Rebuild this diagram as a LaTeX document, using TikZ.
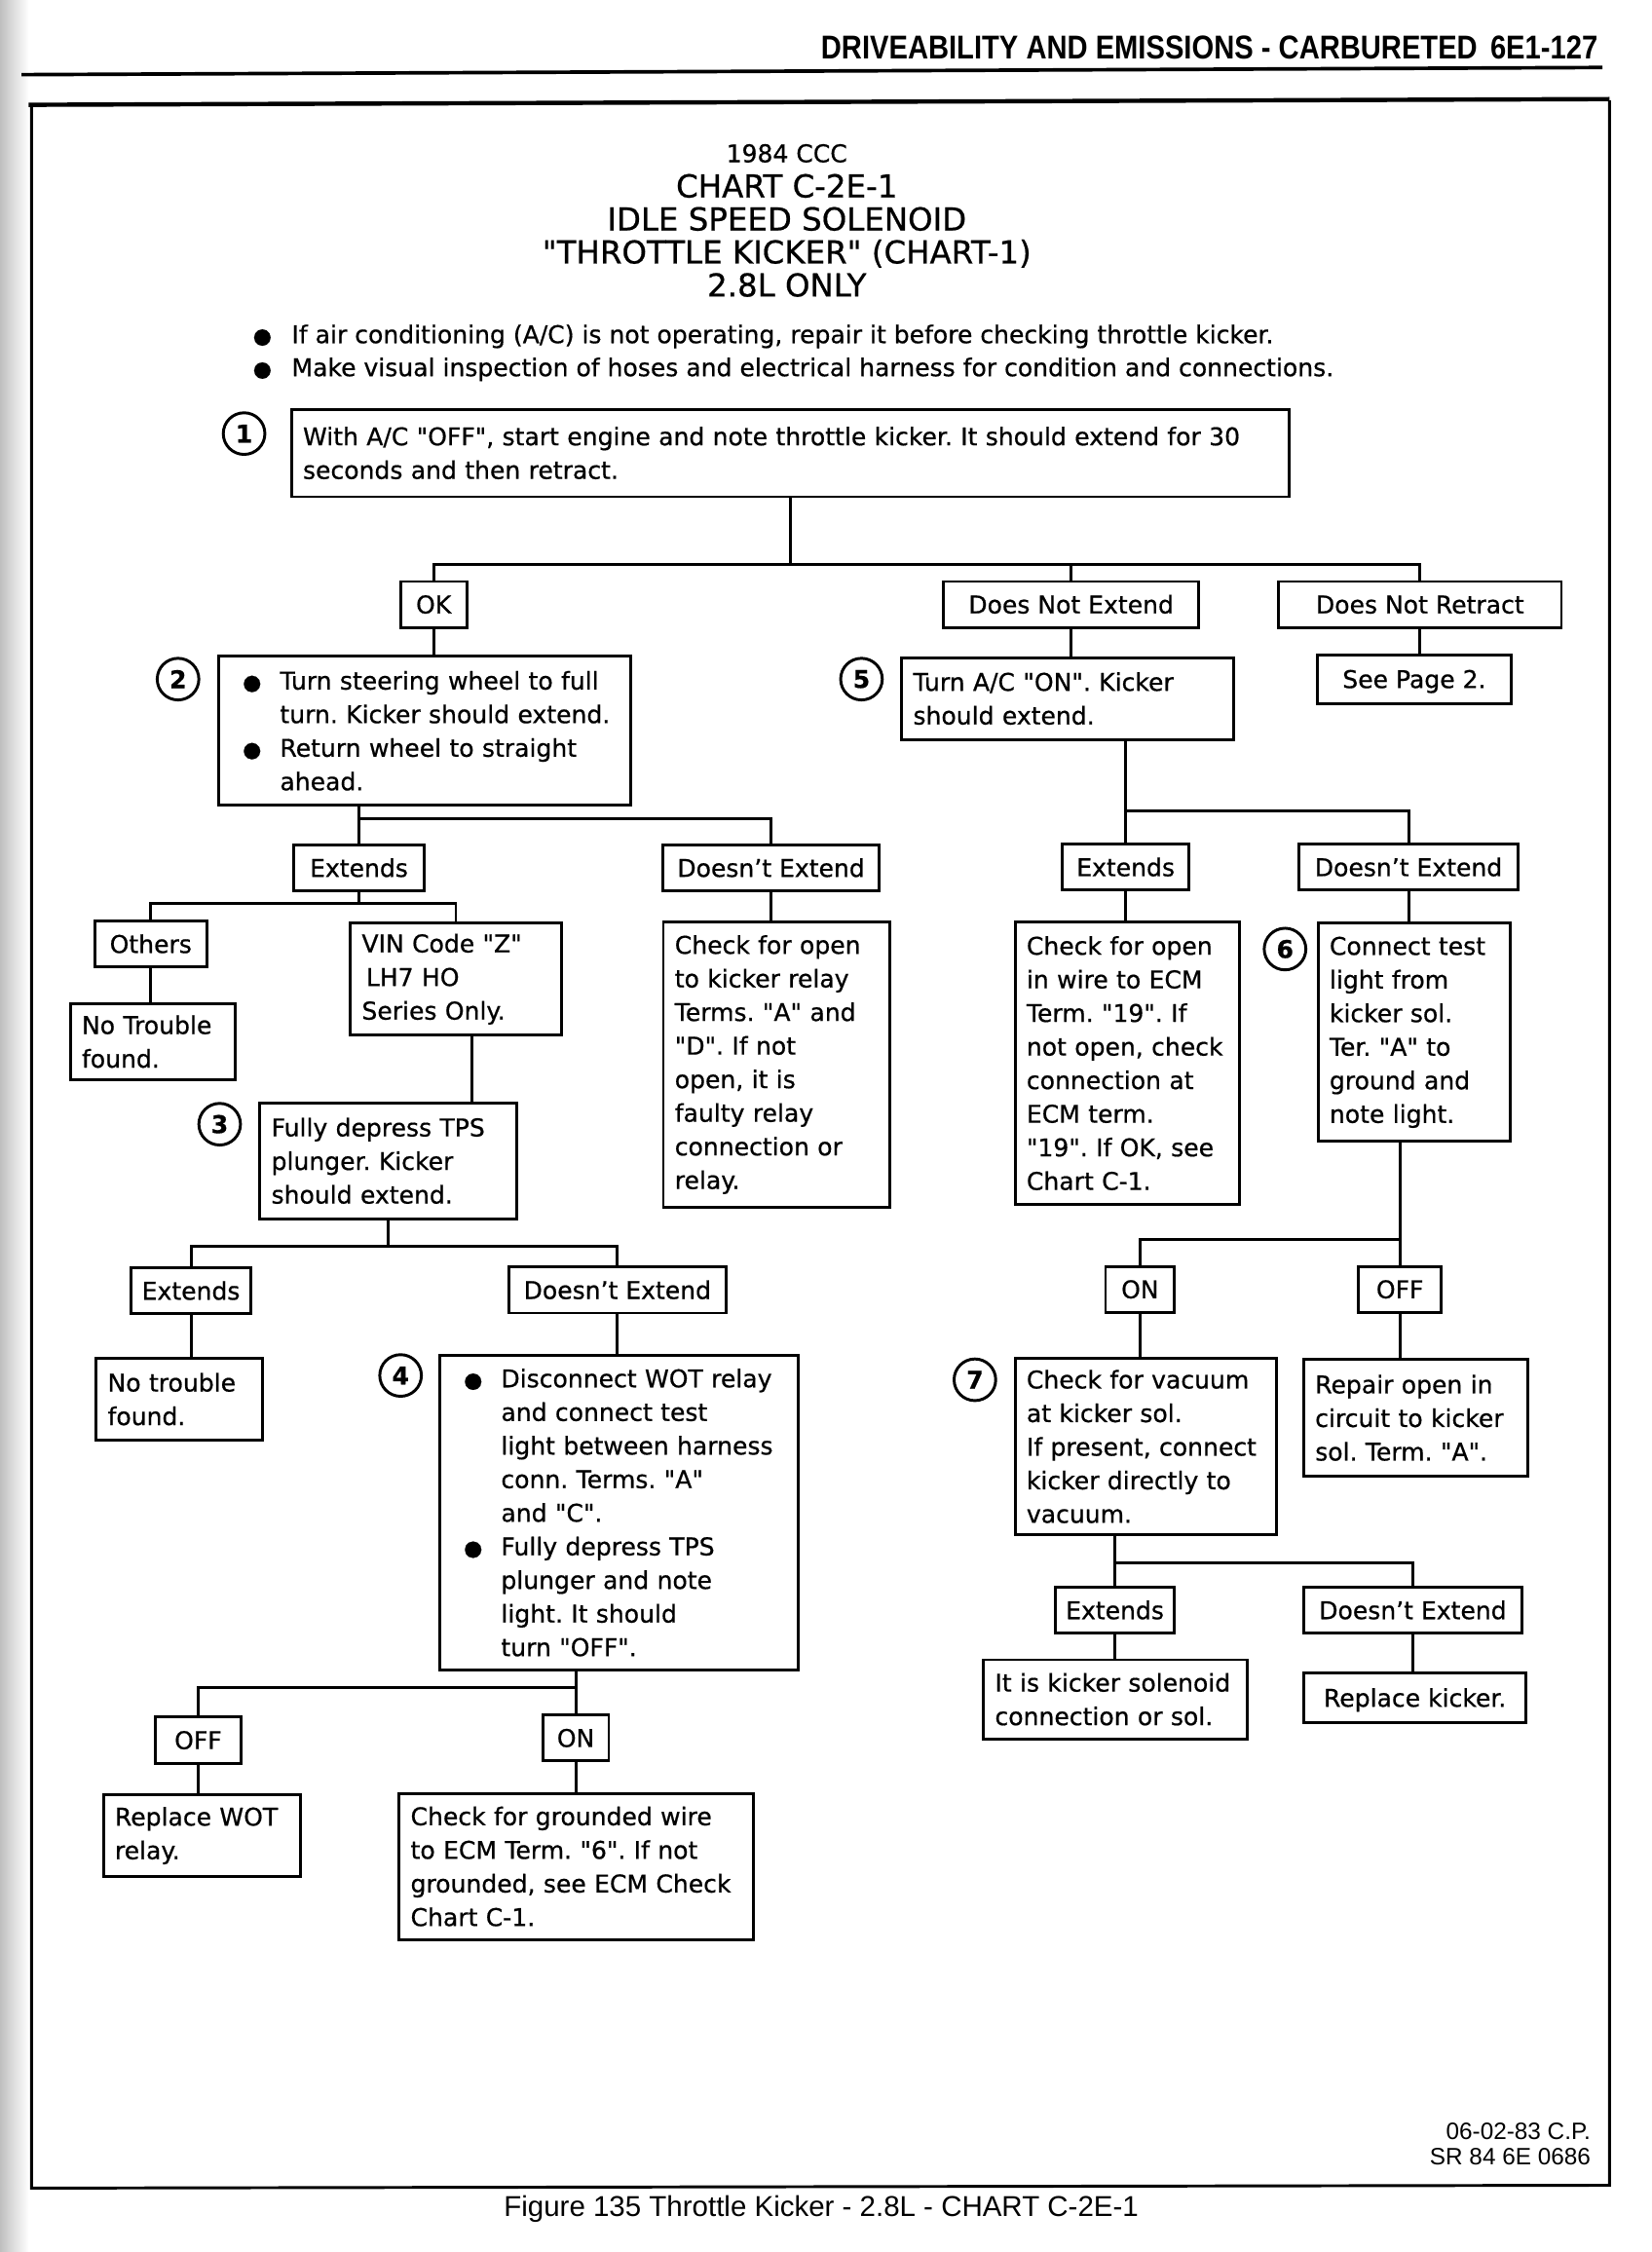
\documentclass[tikz,border=0pt]{standalone}
\usepackage{fontspec}
\setmainfont{DejaVu Sans}[Ligatures=TeXOff, FakeBold=0.6]
\newfontfamily\hdrfont[FakeStretch=0.86]{Liberation Sans}
\newfontfamily\capfont{Liberation Sans}
\usetikzlibrary{positioning,calc}
\frenchspacing
\newcommand\boxfont{\fontsize{17}{23.4}\selectfont}
\newcommand\dotb{{\fontsize{15}{15}\selectfont ●}}
\newcommand\bitem{\makebox[35pt][l]{\hspace{9pt}\dotb}}
\newcommand\bcont{\hspace*{35pt}}

\begin{document}
\begin{tikzpicture}[x=1pt, y=-1pt,
  box/.style={draw, line width=2pt, inner xsep=8pt, inner ysep=4pt, align=left, anchor=north west, font=\boxfont},
  tag/.style={draw, line width=2pt, minimum height=32pt, inner sep=0pt, text height=12.4pt, text depth=0pt, font=\boxfont},
  num/.style={draw, circle, line width=2pt, minimum size=29pt, inner sep=0pt, font=\boxfont\bfseries},
  wire/.style={line width=2pt},
  ttl/.style={anchor=base, inner sep=0pt, font=\fontsize{22}{24}\selectfont}]

\useasboundingbox (0,0) rectangle (1150,1568.5);
\fill[white] (0,0) rectangle (1150,1568.5);
\shade[left color=black!25, right color=white] (0,0) rectangle (20,1568.5);

% page head and frame
\node[anchor=base east, inner sep=0pt, font=\hdrfont\bfseries\fontsize{23}{24}\selectfont] (hdr) at (1113,41) {DRIVEABILITY AND EMISSIONS - CARBURETED\hspace{9pt}6E1-127};
\draw[line width=2.5pt] (15,52) -- (1116,47);
\draw[line width=2pt] (22,73) -- (22,1524) -- (1121,1522) -- (1121,70);
\draw[line width=3pt] (20,73) -- (1121,69);
\node[anchor=base, inner sep=0pt, font=\capfont\fontsize{20}{22}\selectfont] (fig) at (572,1544) {Figure 135 Throttle Kicker - 2.8L - CHART C-2E-1};
\node[anchor=base east, inner sep=0pt, font=\capfont\fontsize{16.5}{18}\selectfont] (date) at (1108,1490) {06-02-83 C.P.};
\node[anchor=base east, inner sep=0pt, font=\capfont\fontsize{16.5}{18}\selectfont] (srno) at (1108,1508) {SR 84 6E 0686};

% title
\node[ttl, font=\fontsize{17}{20}\selectfont] (t0) at (548,113) {1984 CCC};
\node[ttl] (t1) at (548,137.5) {CHART C-2E-1};
\node[ttl] (t2) at (548,160.5) {IDLE SPEED SOLENOID};
\node[ttl] (t3) at (548,183.5) {"THROTTLE KICKER" (CHART-1)};
\node[ttl] (t4) at (548,206.5) {2.8L ONLY};
\node[anchor=base west, inner sep=0pt, font=\fontsize{17}{23}\selectfont] (n1) at (176,239) {\makebox[27pt][l]{\dotb}If air conditioning (A/C) is not operating, repair it before checking throttle kicker.};
\node[anchor=base west, inner sep=0pt, font=\fontsize{17}{23}\selectfont] (n2) at (176,262) {\makebox[27pt][l]{\dotb}Make visual inspection of hoses and electrical harness for condition and connections.};

% step 1
\node[box, text width=679pt, minimum height=61pt] (b1) at (202,284) {With A/C "OFF", start engine and note throttle kicker. It should extend for 30\\ seconds and then retract.};
\node[num] (c1) at (170,302) {1};
\node[tag, minimum width=46pt] (ok) at (302,421) {OK};
\node[tag, minimum width=178pt] (dne) at (746,421) {Does Not Extend};
\node[tag, minimum width=197pt] (dnr) at (989,421) {Does Not Retract};

% steps 2 and 5
\node[box, text width=271pt, minimum height=104pt] (b2) at (151,456) {\bitem Turn steering wheel to full\\ \bcont turn. Kicker should extend.\\ \bitem Return wheel to straight\\ \bcont ahead.};
\node[num] (c2) at (124,473) {2};
\node[box, text width=215pt, minimum height=57pt] (b5) at (627,457) {Turn A/C "ON". Kicker\\ should extend.};
\node[num] (c5) at (600,473) {5};
\node[tag, minimum width=135pt, minimum height=34pt] (pg2) at (985,473) {See Page 2.};

\node[tag, minimum width=91pt] (ext1) at (250,604.5) {Extends};
\node[tag, minimum width=151pt] (dnx1) at (537,604.5) {Doesn’t Extend};
\node[tag, minimum width=78pt] (oth) at (105,657.5) {Others};
\node[box, text width=99pt, minimum height=53pt] (nt1) at (48,698) {No Trouble\\ found.};
\node[box, text width=131pt, minimum height=78pt] (vin) at (243,642) {VIN Code "Z"\\ \hspace*{3pt}LH7 HO\\ Series Only.};
\node[box, text width=163pt, minimum height=81pt] (b3) at (180,767) {Fully depress TPS\\ plunger. Kicker\\ should extend.};
\node[num] (c3) at (153,783) {3};
\node[box, text width=142pt, minimum height=199pt] (chk1) at (461,641) {Check for open\\ to kicker relay\\ Terms. "A" and\\ "D". If not\\ open, it is\\ faulty relay\\ connection or\\ relay.};

\node[tag, minimum width=88pt] (ext2) at (784,604) {Extends};
\node[tag, minimum width=153pt] (dnx2) at (981,604) {Doesn’t Extend};
\node[box, text width=140pt, minimum height=197pt] (ecm) at (706,641) {Check for open\\ in wire to ECM\\ Term. "19". If\\ not open, check\\ connection at\\ ECM term.\\ "19". If OK, see\\ Chart C-1.};
\node[box, text width=118pt, minimum height=152pt] (b6) at (917,642) {Connect test\\ light from\\ kicker sol.\\ Ter. "A" to\\ ground and\\ note light.};
\node[num] (c6) at (895,661) {6};

% steps 3 and 4
\node[tag, minimum width=84pt] (ext3) at (133,899) {Extends};
\node[tag, minimum width=151pt] (dnx3) at (430,898.5) {Doesn’t Extend};
\node[box, text width=100pt, minimum height=57pt] (nt2) at (66,945) {No trouble\\ found.};
\node[box, text width=234pt, minimum height=219pt] (b4) at (305,943) {\bitem Disconnect WOT relay\\ \bcont and connect test\\ \bcont light between harness\\ \bcont conn. Terms. "A"\\ \bcont and "C".\\ \bitem Fully depress TPS\\ \bcont plunger and note\\ \bcont light. It should\\ \bcont turn "OFF".};
\node[num] (c4) at (279,958) {4};
\node[tag, minimum width=60pt] (offL) at (138,1212) {OFF};
\node[tag, minimum width=46pt] (onL) at (401,1210.5) {ON};
\node[box, text width=121pt, minimum height=57pt] (rwot) at (71,1249) {Replace WOT\\ relay.};
\node[box, text width=231pt, minimum height=102pt] (grnd) at (277,1248) {Check for grounded wire\\ to ECM Term. "6". If not\\ grounded, see ECM Check\\ Chart C-1.};

% steps 6 and 7
\node[tag, minimum width=48pt] (onR) at (794,898) {ON};
\node[tag, minimum width=58pt] (offR) at (975,898) {OFF};
\node[box, text width=166pt, minimum height=123pt] (b7) at (706,945) {Check for vacuum\\ at kicker sol.\\ If present, connect\\ kicker directly to\\ vacuum.};
\node[num] (c7) at (679,961) {7};
\node[box, text width=140pt, minimum height=81pt] (rep) at (907,946) {Repair open in\\ circuit to kicker\\ sol. Term. "A".};
\node[tag, minimum width=83pt] (ext4) at (776.5,1121.5) {Extends};
\node[tag, minimum width=152pt] (dnx4) at (984,1121.5) {Doesn’t Extend};
\node[box, text width=168pt, minimum height=55pt] (sol) at (684,1155) {It is kicker solenoid\\ connection or sol.};
\node[tag, minimum width=155pt, minimum height=35pt] (rk) at (985.5,1182.5) {Replace kicker.};

% connectors
\draw[wire] (b1.south) -- ++(0,46) coordinate (j1);
\draw[wire] (ok.north) |- (j1) -| (dnr.north);
\draw[wire] (j1) -| (dne.north);
\draw[wire] (ok) -- (ok |- b2.north);
\draw[wire] (dne) -- (dne |- b5.north);
\draw[wire] (dnr) -- (dnr |- pg2.north);

\draw[wire] (ext1) -- (ext1 |- b2.south);
\path (ext1.north) ++(0,-17) coordinate (j2);
\draw[wire] (j2) -| (dnx1.north);
\draw[wire] (ext1.south) -- ++(0,8) coordinate (j3);
\draw[wire] (oth.north) |- (j3) -| (vin.north);
\draw[wire] (oth) -- (oth |- nt1.north);
\coordinate (v3) at ([xshift=11pt]vin.south);
\draw[wire] (v3) -- (v3 |- b3.north);
\draw[wire] (dnx1) -- (dnx1 |- chk1.north);

\draw[wire] (b3.south) -- ++(0,18) coordinate (j4);
\draw[wire] (ext3.north) |- (j4) -| (dnx3.north);
\draw[wire] (ext3) -- (ext3 |- nt2.north);
\draw[wire] (dnx3) -- (dnx3 |- b4.north);
\draw[wire] (onL) -- (onL |- b4.south);
\path (onL.north) ++(0,-18) coordinate (j5);
\draw[wire] (offL.north) |- (j5);
\draw[wire] (offL) -- (offL |- rwot.north);
\draw[wire] (onL) -- (onL |- grnd.north);

\draw[wire] (ext2) -- (ext2 |- b5.south);
\path (ext2.north) ++(0,-22) coordinate (j6);
\draw[wire] (j6) -| (dnx2.north);
\draw[wire] (ext2) -- (ext2 |- ecm.north);
\draw[wire] (dnx2) -- (dnx2 |- b6.north);
\draw[wire] (offR) -- (offR |- b6.south);
\path (offR.north) ++(0,-18) coordinate (j7);
\draw[wire] (j7) -| (onR.north);
\draw[wire] (onR) -- (onR |- b7.north);
\draw[wire] (offR) -- (offR |- rep.north);
\draw[wire] (ext4) -- (ext4 |- b7.south);
\path (ext4.north) ++(0,-16) coordinate (j8);
\draw[wire] (j8) -| (dnx4.north);
\draw[wire] (ext4) -- (ext4 |- sol.north);
\draw[wire] (dnx4) -- (dnx4 |- rk.north);
\end{tikzpicture}
\end{document}
